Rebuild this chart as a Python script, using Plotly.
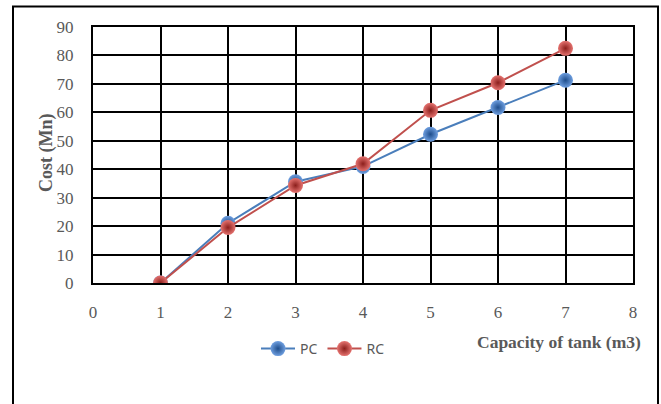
import plotly.graph_objects as go

capacity = [1, 2, 3, 4, 5, 6, 7]
pc_cost = [0, 21, 35.6, 41, 52.3, 61.7, 71.3]
rc_cost = [0, 19.5, 34.3, 41.9, 60.7, 70.4, 82.5]
x_ticks = [0, 1, 2, 3, 4, 5, 6, 7, 8]
y_ticks = [0, 10, 20, 30, 40, 50, 60, 70, 80, 90]

W, H = 661, 404
ml, mr, mt, mb = 93, 28, 27, 121
pw, ph = W - ml - mr, H - mt - mb

def px_x(x):
    return (x - ml) / pw

def px_y(y):
    return (H - mb - y) / ph

fig = go.Figure()
fig.add_trace(go.Scatter(
    x=capacity, y=pc_cost, name="PC", mode="lines+markers",
    line=dict(color="#4A7EBB", width=2),
    marker=dict(size=15, color="#6F9FE0",
                gradient=dict(type="radial", color="#1F4E8C"),
                line=dict(width=0)),
))
fig.add_trace(go.Scatter(
    x=capacity, y=rc_cost, name="RC", mode="lines+markers",
    line=dict(color="#C0504D", width=2),
    marker=dict(size=15, color="#E57370",
                gradient=dict(type="radial", color="#8C1F1C"),
                line=dict(width=0)),
))

tickfont = dict(family="Liberation Serif", size=17, color="#595959")
fig.update_xaxes(range=[0, 8], tickvals=x_ticks, showgrid=True, gridcolor="black",
                 gridwidth=2, zeroline=False, showline=True, linecolor="black",
                 linewidth=2, mirror=True, tickfont=tickfont, ticks="",
                 ticklabelstandoff=13)
fig.update_yaxes(range=[0, 90], tickvals=y_ticks, showgrid=True, gridcolor="black",
                 gridwidth=2, zeroline=False, showline=True, linecolor="black",
                 linewidth=2, mirror=True, tickfont=tickfont, ticks="",
                 ticklabelstandoff=14)

fig.add_annotation(text="<b>Capacity of tank (m3)</b>", xref="paper", yref="paper",
                   x=px_x(643), y=px_y(342), xanchor="right", yanchor="middle",
                   showarrow=False,
                   font=dict(family="Liberation Serif", size=17.5, color="#595959"))
fig.add_annotation(text="<b>Cost (Mn)</b>", xref="paper", yref="paper",
                   x=px_x(46), y=px_y(153), xanchor="center", yanchor="middle",
                   textangle=-90, showarrow=False,
                   font=dict(family="Liberation Serif", size=18, color="#595959"))

fig.add_shape(type="rect", xref="paper", yref="paper",
              x0=px_x(13), x1=px_x(658), y0=px_y(420), y1=px_y(6.5),
              line=dict(color="black", width=2), fillcolor="rgba(0,0,0,0)", layer="below")

fig.update_layout(
    width=W, height=H,
    margin=dict(l=ml, r=mr, t=mt, b=mb),
    paper_bgcolor="white", plot_bgcolor="white",
    showlegend=True,
    legend=dict(orientation="h", x=px_x(323), y=px_y(349), xanchor="center",
                yanchor="middle", font=dict(family="Noto Sans", size=14, color="#595959"),
                itemwidth=34, tracegroupgap=0, bgcolor="rgba(0,0,0,0)"),
)

fig.write_html("out.html")
